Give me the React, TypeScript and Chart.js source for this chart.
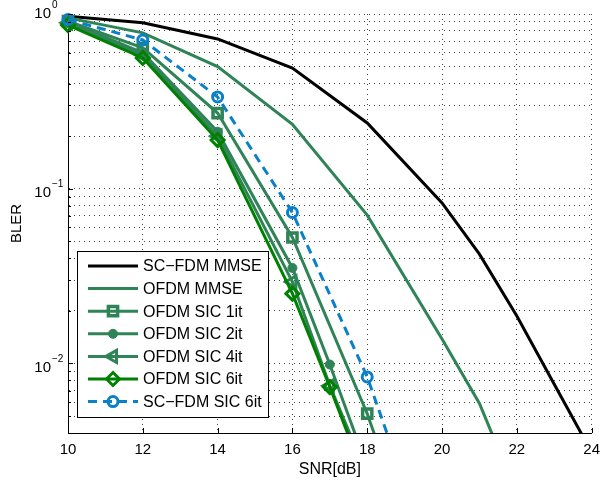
import React, { useEffect, useRef } from "react";
import { Chart, registerables } from "chart.js";

Chart.register(...registerables);

const FONT = '"Liberation Sans", Arial, Helvetica, sans-serif';

// ---- data ----
const scFdmMmseX = [10, 12, 14, 16, 18, 20, 21, 22, 23, 24];
const scFdmMmseY = [0.97, 0.89, 0.72, 0.49, 0.238, 0.083, 0.0422, 0.0187, 0.0076, 0.0031];

const ofdmMmseX = [10, 12, 14, 16, 18, 20, 21, 22];
const ofdmMmseY = [0.95, 0.78, 0.5, 0.234, 0.0706, 0.0138, 0.0059, 0.0018];

const ofdmSic1X = [10, 12, 14, 16, 18, 19];
const ofdmSic1Y = [0.91, 0.64, 0.271, 0.0526, 0.00516, 0.00126];

const ofdmSic2X = [10, 12, 14, 16, 17, 18];
const ofdmSic2Y = [0.9, 0.6, 0.212, 0.0352, 0.00986, 0.00255];

const ofdmSic4X = [10, 12, 14, 16, 17, 18];
const ofdmSic4Y = [0.89, 0.58, 0.2, 0.0293, 0.00745, 0.0023];

const ofdmSic6X = [10, 12, 14, 16, 17, 18];
const ofdmSic6Y = [0.865, 0.56, 0.19, 0.0251, 0.00733, 0.00203];

const scFdmSic6X = [10, 12, 14, 16, 18, 19];
const scFdmSic6Y = [0.93, 0.71, 0.335, 0.0731, 0.00837, 0.00206];

const seriesLabels = [
  "SC\u2212FDM MMSE",
  "OFDM MMSE",
  "OFDM SIC 1it",
  "OFDM SIC 2it",
  "OFDM SIC 4it",
  "OFDM SIC 6it",
  "SC\u2212FDM SIC 6it",
];

const xTicks = [10, 12, 14, 16, 18, 20, 22, 24];
const yMajorTicks = [1, 0.1, 0.01];
const yMajorExponents = ["0", "\u22121", "\u22122"];
const yGridTicks = [
  0.004, 0.005, 0.006, 0.007, 0.008, 0.009,
  0.01, 0.02, 0.03, 0.04, 0.05, 0.06, 0.07, 0.08, 0.09,
  0.1, 0.2, 0.3, 0.4, 0.5, 0.6, 0.7, 0.8, 0.9, 1,
];
const xTitle = "SNR[dB]";
const yTitle = "BLER";

// ---- styles ----
const BLACK = "#000000";
const GREEN = "#2E8456";
const BRIGHT_GREEN = "#008000";
const BLUE = "#0A80C8";

const pts = (xs: number[], ys: number[]) => xs.map((x, i) => ({ x, y: ys[i] }));

function makeDatasets() {
  const base = (label: string, data: any, color: string, extra: any) => ({
    label,
    data,
    borderColor: color,
    backgroundColor: color,
    borderWidth: 3,
    pointRadius: 0,
    pointBorderColor: color,
    pointBackgroundColor: "rgba(0,0,0,0)",
    pointBorderWidth: 3,
    tension: 0,
    clip: { left: 12, top: 12, right: 0, bottom: 0 },
    ...extra,
  });
  const ds = [
    base(seriesLabels[0], pts(scFdmMmseX, scFdmMmseY), BLACK, {}),
    base(seriesLabels[1], pts(ofdmMmseX, ofdmMmseY), GREEN, {}),
    base(seriesLabels[2], pts(ofdmSic1X, ofdmSic1Y), GREEN, {
      pointStyle: "rect",
      pointRadius: 6.5,
      pointBorderWidth: 3.5,
    }),
    base(seriesLabels[3], pts(ofdmSic2X, ofdmSic2Y), GREEN, {
      pointStyle: "circle",
      pointRadius: 4.5,
      pointBackgroundColor: GREEN,
      pointBorderWidth: 1,
    }),
    base(seriesLabels[4], pts(ofdmSic4X, ofdmSic4Y), GREEN, {
      pointStyle: "triangle",
      pointRotation: -90,
      pointRadius: 7,
    }),
    base(seriesLabels[5], pts(ofdmSic6X, ofdmSic6Y), BRIGHT_GREEN, {
      pointStyle: "rectRot",
      pointRadius: 6.5,
      pointBorderWidth: 3,
    }),
    base(seriesLabels[6], pts(scFdmSic6X, scFdmSic6Y), BLUE, {
      pointStyle: "circle",
      pointRadius: 5,
      pointBorderWidth: 3,
      borderDash: [9, 6],
    }),
  ];
  const n = ds.length;
  return ds.map((d, i) => ({ ...d, order: n - i }));
}

function drawMarker(ctx: CanvasRenderingContext2D, ds: any, x: number, y: number) {
  const style = ds.pointStyle;
  const r = ds.pointRadius;
  if (!style || !r) return;
  ctx.save();
  ctx.setLineDash([]);
  ctx.beginPath();
  if (style === "rect") {
    const s = r * Math.SQRT1_2;
    ctx.rect(x - s, y - s, 2 * s, 2 * s);
  } else if (style === "circle") {
    ctx.arc(x, y, r, 0, Math.PI * 2);
  } else if (style === "triangle") {
    ctx.moveTo(x - r, y);
    ctx.lineTo(x + r * 0.5, y - r * 0.866);
    ctx.lineTo(x + r * 0.5, y + r * 0.866);
    ctx.closePath();
  } else if (style === "rectRot") {
    ctx.moveTo(x, y - r);
    ctx.lineTo(x + r, y);
    ctx.lineTo(x, y + r);
    ctx.lineTo(x - r, y);
    ctx.closePath();
  }
  ctx.fillStyle = ds.pointBackgroundColor;
  ctx.fill();
  ctx.lineWidth = ds.pointBorderWidth;
  ctx.strokeStyle = ds.pointBorderColor;
  ctx.stroke();
  ctx.restore();
}

const decorPlugin = {
  id: "matlabDecor",
  afterDraw(chart: any) {
    const ctx: CanvasRenderingContext2D = chart.ctx;
    const area = chart.chartArea;
    const xs = chart.scales.x;
    const ys = chart.scales.y;
    ctx.save();

    // inward tick marks
    ctx.strokeStyle = "#000";
    ctx.lineWidth = 1;
    ctx.setLineDash([]);
    ctx.beginPath();
    xTicks.forEach((v) => {
      const px = Math.round(xs.getPixelForValue(v)) + 0.5;
      ctx.moveTo(px, area.bottom);
      ctx.lineTo(px, area.bottom - 5);
    });
    yGridTicks.forEach((v) => {
      const py = Math.round(ys.getPixelForValue(v)) + 0.5;
      const major = yMajorTicks.includes(v);
      ctx.moveTo(area.left, py);
      ctx.lineTo(area.left + (major ? 5 : 3), py);
    });
    ctx.stroke();

    // y tick labels 10^k
    ctx.fillStyle = "#000";
    yMajorTicks.forEach((v, i) => {
      const py = ys.getPixelForValue(v);
      const baseline = v === ys.max ? py + 4.3 : py + 8.3;
      ctx.font = `15px ${FONT}`;
      ctx.textAlign = "right";
      ctx.textBaseline = "alphabetic";
      ctx.fillText("10", 51, baseline);
      ctx.font = `10px ${FONT}`;
      ctx.textAlign = "left";
      ctx.fillText(yMajorExponents[i], 52, baseline - 10);
    });

    // axis titles
    ctx.font = `16px ${FONT}`;
    ctx.textAlign = "center";
    ctx.textBaseline = "alphabetic";
    ctx.fillText(xTitle, (area.left + area.right) / 2, 473.5);
    ctx.save();
    ctx.translate(20.5, (area.top + area.bottom) / 2);
    ctx.rotate(-Math.PI / 2);
    ctx.font = `15px ${FONT}`;
    ctx.fillText(yTitle, 0, 0);
    ctx.restore();

    // legend
    const bx = 77, by = 251, bw = 191, bh = 166;
    ctx.fillStyle = "#fff";
    ctx.fillRect(bx, by, bw, bh);
    ctx.strokeStyle = "#000";
    ctx.lineWidth = 1;
    ctx.strokeRect(bx + 0.5, by + 0.5, bw, bh);
    const datasets = chart.data.datasets;
    datasets.forEach((ds: any, i: number) => {
      const y = 266 + i * 22.6;
      ctx.save();
      ctx.strokeStyle = ds.borderColor;
      ctx.lineWidth = ds.borderWidth;
      ctx.setLineDash(ds.borderDash || []);
      ctx.beginPath();
      ctx.moveTo(88, y);
      ctx.lineTo(138, y);
      ctx.stroke();
      ctx.restore();
      drawMarker(ctx, ds, 113, y);
      ctx.fillStyle = "#000";
      ctx.font = `16px ${FONT}`;
      ctx.textAlign = "left";
      ctx.textBaseline = "middle";
      ctx.fillText(ds.label, 143, y + 1);
    });

    ctx.restore();
  },
};

export default function App() {
  const ref = useRef<HTMLCanvasElement>(null);
  useEffect(() => {
    const canvas = ref.current;
    if (!canvas) return;
    const chart = new Chart(canvas, {
      type: "line",
      data: { datasets: makeDatasets() as any },
      options: {
        animation: false,
        responsive: false,
        maintainAspectRatio: false,
        events: [],
        layout: { padding: { left: 0, top: 14, right: 9, bottom: 0 } },
        plugins: { legend: { display: false }, tooltip: { enabled: false } },
        scales: {
          x: {
            type: "linear",
            min: 10,
            max: 24,
            afterBuildTicks: (s: any) => {
              s.ticks = xTicks.map((v) => ({ value: v }));
            },
            afterFit: (s: any) => {
              s.height = 47;
            },
            ticks: {
              autoSkip: false,
              maxRotation: 0,
              color: "#000",
              padding: 8,
              font: { family: FONT, size: 15 },
              callback: (v: any) => String(v),
            },
            grid: { color: "#444", lineWidth: 1, drawTicks: false },
            border: { display: true, color: "#000", width: 1, dash: [1, 4] },
          },
          y: {
            type: "logarithmic",
            min: 0.004,
            max: 1,
            afterBuildTicks: (s: any) => {
              s.ticks = yGridTicks.map((v) => ({ value: v, major: yMajorTicks.includes(v) }));
            },
            afterFit: (s: any) => {
              s.width = 68;
            },
            ticks: { display: false },
            grid: { color: "#444", lineWidth: 1, drawTicks: false },
            border: { display: true, color: "#000", width: 1, dash: [1, 4] },
          },
        },
      } as any,
      plugins: [decorPlugin],
    });
    return () => chart.destroy();
  }, []);
  return (
    <div style={{ position: "absolute", left: 0, top: 0, width: 608, height: 480, background: "#fff" }}>
      <canvas ref={ref} width={608} height={480} style={{ display: "block" }} />
    </div>
  );
}
